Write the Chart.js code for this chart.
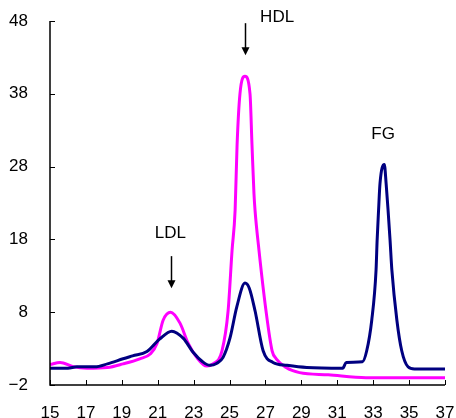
<!DOCTYPE html>
<html>
<head>
<meta charset="utf-8">
<script src="https://cdn.jsdelivr.net/npm/chart.js@4"></script>
<style>
  html, body { margin: 0; padding: 0; background: #fff; }
  #wrap { width: 456px; height: 418px; }
</style>
</head>
<body>
<div id="wrap"><canvas id="myChart" width="456" height="418"></canvas></div>
<script>
// elution volume (x) and absorbance (y)
const blueX = [15, 16, 16.5, 17.5, 18.2, 19.07, 19.6, 20.4, 21.1, 21.78, 22.43, 22.97, 23.5, 23.9, 24.3, 24.64, 25.03, 25.4, 25.86, 26.1, 26.42, 26.87, 27.42, 28.2, 29.3, 31.3, 31.5, 32.4, 32.64, 32.92, 33.16, 33.22, 33.3, 33.38, 33.62, 33.72, 33.83, 33.94, 34.04, 34.32, 34.59, 34.94, 35.3, 37];
const blueY = [0.3, 0.3, 0.5, 0.5, 0.9, 1.6, 2.0, 2.6, 4.3, 5.4, 4.4, 2.5, 1.2, 0.7, 1.0, 1.8, 4.5, 8.7, 12.0, 11.3, 8.2, 2.7, 1.1, 0.7, 0.4, 0.3, 1.1, 1.2, 2.7, 6.9, 13.8, 17.9, 22.0, 25.7, 28.3, 25.7, 22.0, 17.9, 13.8, 6.9, 2.7, 0.5, 0.2, 0.2];

const pinkX = [15, 15.56, 16.3, 17.06, 18.2, 19.07, 20, 20.6, 20.96, 21.3, 21.72, 22.24, 22.7, 23.17, 23.73, 24.08, 24.58, 24.92, 25.14, 25.31, 25.42, 25.58, 25.86, 26.14, 26.25, 26.36, 26.42, 26.64, 27.03, 27.37, 27.6, 28.15, 28.9, 30.5, 32.6, 37];
const pinkY = [0.8, 1.1, 0.5, 0.3, 0.4, 0.9, 1.6, 2.3, 3.7, 6.9, 8.0, 6.5, 3.7, 1.8, 0.6, 0.9, 2.7, 8.2, 16.5, 22, 31, 38, 40.4, 38, 31, 24.3, 22, 16.5, 8.2, 2.7, 1.6, 0.4, -0.3, -0.6, -1.0, -1.0];

// axis settings
const xMin = 15, xMax = 37, xStep = 2;
const yMin = -2, yMax = 48, yStep = 10;

// peak labels: text, x, y of text, arrow from/to (data units)
const peakNames = ['LDL', 'HDL', 'FG'];
const peakTextX = [21.7, 27.65, 33.55];
const peakTextY = [18.8, 48.55, 32.5];
const arrowX = [21.72, 25.86, null];
const arrowFrom = [15.7, 47.7, null];
const arrowTo = [11.3, 43.3, null];

function pts(xs, ys) {
    return xs.map((x, i) => ({ x: x, y: ys[i] }));
}

const FONT = '"Liberation Sans", Arial, sans-serif';

// axis lines + inner ticks, and the peak labels
const axesPlugin = {
    id: 'axesPlugin',
    afterDraw(chart) {
        const ctx = chart.ctx;
        const xs = chart.scales.x, ys = chart.scales.y;
        const a = chart.chartArea;
        ctx.save();
        ctx.strokeStyle = '#000';
        ctx.lineWidth = 1.5;
        ctx.beginPath();
        ctx.moveTo(a.left, ys.getPixelForValue(yMax));
        ctx.lineTo(a.left, a.bottom);
        ctx.lineTo(xs.getPixelForValue(xMax), a.bottom);
        ctx.stroke();
        ctx.lineWidth = 1;
        ctx.beginPath();
        for (let v = yMin; v <= yMax; v += yStep) {
            const p = Math.round(ys.getPixelForValue(v)) + 0.5;
            ctx.moveTo(a.left, p); ctx.lineTo(a.left + 5, p);
        }
        for (let v = xMin; v <= xMax; v += xStep) {
            const p = Math.round(xs.getPixelForValue(v)) + 0.5;
            ctx.moveTo(p, a.bottom); ctx.lineTo(p, a.bottom - 5);
        }
        ctx.stroke();

        ctx.fillStyle = '#000';
        ctx.font = '17px ' + FONT;
        ctx.textAlign = 'center';
        ctx.textBaseline = 'middle';
        peakNames.forEach((n, i) => {
            ctx.fillText(n, xs.getPixelForValue(peakTextX[i]), ys.getPixelForValue(peakTextY[i]));
            if (arrowX[i] === null) return;
            const ax = Math.round(xs.getPixelForValue(arrowX[i])) + 0.5;
            const y1 = ys.getPixelForValue(arrowFrom[i]);
            const y2 = ys.getPixelForValue(arrowTo[i]);
            ctx.lineWidth = 1.5;
            ctx.beginPath();
            ctx.moveTo(ax, y1); ctx.lineTo(ax, y2 - 6);
            ctx.stroke();
            ctx.beginPath();
            ctx.moveTo(ax - 4, y2 - 8); ctx.lineTo(ax + 4, y2 - 8); ctx.lineTo(ax, y2);
            ctx.closePath();
            ctx.fill();
        });
        ctx.restore();
    }
};

const ctx = document.getElementById('myChart').getContext('2d');
const myChart = new Chart(ctx, {
    type: 'line',
    data: {
        datasets: [{
            label: 'blue',
            data: pts(blueX, blueY),
            borderColor: '#000080',
            borderWidth: 3,
            pointRadius: 0,
            cubicInterpolationMode: 'monotone',
            fill: false
        }, {
            label: 'pink',
            data: pts(pinkX, pinkY),
            borderColor: '#ff00ff',
            borderWidth: 3,
            pointRadius: 0,
            cubicInterpolationMode: 'monotone',
            fill: false
        }]
    },
    options: {
        responsive: false,
        animation: false,
        layout: { padding: { top: 21, right: 11, left: 0, bottom: 0 } },
        plugins: { legend: { display: false }, tooltip: { enabled: false } },
        scales: {
            x: {
                type: 'linear',
                min: xMin, max: xMax,
                grid: { display: false, drawTicks: false },
                border: { display: false },
                ticks: {
                    stepSize: xStep,
                    color: '#000',
                    padding: 18,
                    maxRotation: 0,
                    font: { family: FONT, size: 17 }
                },
                afterFit(s) { s.height = 33; s.paddingLeft = 0; s.paddingRight = 0; }
            },
            y: {
                min: yMin, max: yMax,
                grid: { display: false, drawTicks: false },
                border: { display: false },
                ticks: {
                    stepSize: yStep,
                    color: '#000',
                    padding: 22,
                    font: { family: FONT, size: 17 },
                    callback: v => v < 0 ? '\u2212' + Math.abs(v) : v
                },
                afterFit(s) { s.width = 50; s.paddingTop = 0; s.paddingBottom = 0; }
            }
        }
    },
    plugins: [axesPlugin]
});
</script>
</body>
</html>
